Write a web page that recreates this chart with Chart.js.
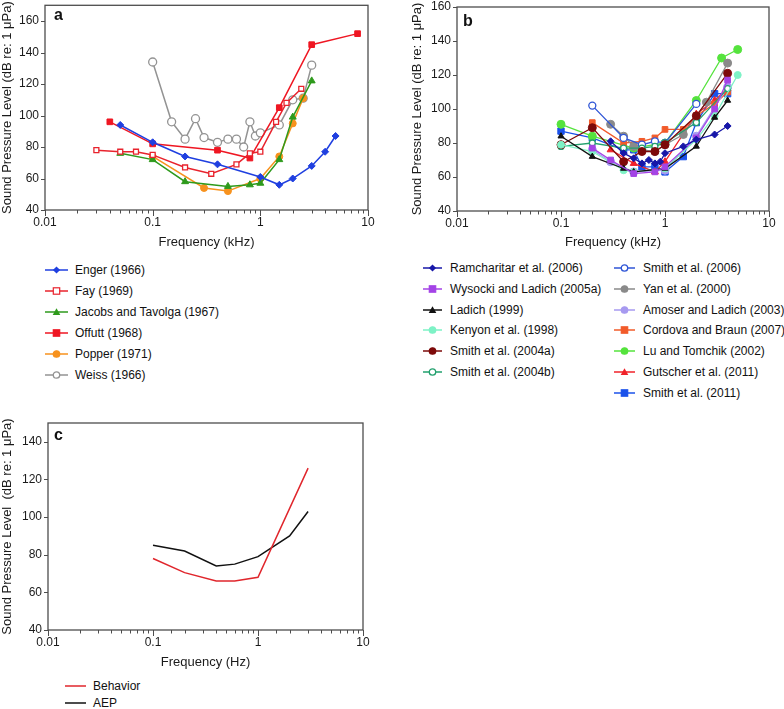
<!DOCTYPE html>
<html>
<head>
<meta charset="utf-8">
<script src="https://cdn.jsdelivr.net/npm/chart.js@4/dist/chart.umd.min.js"></script>
<style>
  body { margin: 0; background: #fff; width: 784px; height: 709px; position: relative; overflow: hidden;
         font-family: "Liberation Sans", Arial, sans-serif; color: #111; }
  canvas { position: absolute; }
  .letter { position: absolute; font-weight: bold; font-size: 16px; }
  .legend { position: absolute; font-size: 12px; }
  .item { position: absolute; white-space: nowrap; height: 14px; line-height: 14px; }
  .item svg { position: absolute; left: 0; top: 2px; }
  .item span { position: absolute; }
</style>
</head>
<body>
<canvas id="chartA" width="385" height="250" style="left:0;top:0"></canvas>
<canvas id="chartB" width="394" height="250" style="left:390px;top:0"></canvas>
<canvas id="chartC" width="385" height="255" style="left:0;top:415px"></canvas>
<div class="letter" style="left:54px;top:6px">a</div>
<div class="letter" style="left:463px;top:12px">b</div>
<div class="letter" style="left:54px;top:426px">c</div>
<div id="legendA" class="legend"></div>
<div id="legendB" class="legend"></div>
<div id="legendC" class="legend"></div>
<script>
// Panel a: [frequency kHz, threshold dB]
const enger = [[0.05,94],[0.1,83],[0.2,74],[0.4,69],[1,61],[1.5,56],[2,60],[3,68],[4,77],[5,87]];
const fay = [[0.03,78],[0.05,77],[0.07,77],[0.1,75],[0.2,67],[0.35,63],[0.6,69],[0.8,76],[1,77],[1.4,96],[1.75,108],[2.4,117]];
const jacobs = [[0.05,76],[0.1,72],[0.2,58],[0.5,55],[0.8,56],[1,57],[1.5,72],[2,99],[3,122]];
const offutt = [[0.04,96],[0.1,82],[0.4,78],[0.8,73],[1.5,105],[3,145],[8,152]];
const popper = [[0.1,74],[0.3,54],[0.5,52],[1,60],[1.5,74],[2,95],[2.5,111]];
const weiss = [[0.1,134],[0.15,96],[0.2,85],[0.25,98],[0.3,86],[0.4,83],[0.5,85],[0.6,85],[0.7,80],[0.8,96],[0.9,87],[1,89],[1.5,94],[2,110],[2.5,111],[3,132]];
const panelALabels = ["Enger (1966)", "Fay (1969)", "Jacobs and Tavolga (1967)", "Offutt (1968)", "Popper (1971)", "Weiss (1966)"];

// Panel b
const ramcharitar = [[0.3,81],[0.4,74],[0.5,71],[0.6,68],[0.7,70],[0.8,68],[0.9,69],[1,74],[1.5,78],[2,82],[3,85],[4,90]];
const wysocki = [[0.2,77],[0.3,70],[0.5,62],[0.8,63],[1,66],[2,83],[3,100],[4,117]];
const ladich = [[0.1,84],[0.2,72],[0.4,65],[0.5,63],[1,65],[2,78],[3,95],[4,105]];
const kenyon = [[0.1,79],[0.2,75],[0.4,64],[0.5,63],[1,65],[2,82],[3,96],[5,120]];
const smith2004a = [[0.1,79],[0.2,89],[0.4,69],[0.6,75],[0.8,75],[1,79],[2,96],[4,121]];
const smith2004b = [[0.1,78],[0.2,80],[0.4,77],[0.6,77],[0.8,78],[1,80],[2,92],[4,112]];
const smith2006 = [[0.2,102],[0.4,83],[0.6,79],[0.8,81],[1,80],[2,103]];
const yan = [[0.3,91],[0.4,84],[0.5,78],[0.6,76],[0.8,75],[1,79],[1.5,85],[2.5,104],[4,127]];
const amoser = [[0.2,76],[0.3,69],[0.5,63],[1,64],[2,84],[4,113]];
const cordova = [[0.2,92],[0.4,80],[0.6,81],[0.8,83],[1,88],[1.5,88],[2,96],[3,103],[4,110]];
const luTomchik = [[0.1,91],[0.2,84],[0.5,77],[1,80],[2,105],[3.5,130],[5,135]];
const gutscher = [[0.3,76],[0.5,68],[0.8,63],[1,69],[2,97],[3,105],[4,112]];
const smith2011 = [[0.1,87],[0.2,83],[0.4,76],[0.5,76],[0.6,66],[0.8,66],[1,63],[1.5,72],[2,92],[3,109],[4,109]];
const panelBLabels = ["Ramcharitar et al. (2006)", "Wysocki and Ladich (2005a)", "Ladich (1999)", "Kenyon et al. (1998)",
  "Smith et al. (2004a)", "Smith et al. (2004b)", "Smith et al. (2006)", "Yan et al. (2000)", "Amoser and Ladich (2003)",
  "Cordova and Braun (2007)", "Lu and Tomchik (2002)", "Gutscher et al. (2011)", "Smith et al. (2011)"];

// Panel c
const behavior = [[0.1,78],[0.2,70.5],[0.4,66],[0.6,66],[1,68],[3,126]];
const aep = [[0.1,85],[0.2,82],[0.4,74],[0.6,75],[1,79],[2,90],[3,103]];
const panelCLabels = ["Behavior", "AEP"];

const decadeLabels = ["0.01", "0.1", "1", "10"];
const FONT = '"Liberation Sans", Arial, sans-serif';

function isDecade(v) {
  const l = Math.log10(v);
  return Math.abs(l - Math.round(l)) < 1e-6;
}

// box round the plot plus outward tick marks, placed with the chart's own scales
const frameTicks = {
  id: "frameTicks",
  afterDraw(chart) {
    const { ctx, chartArea: a, scales: { x, y } } = chart;
    ctx.save();
    ctx.strokeStyle = "#4d4d4d";
    ctx.lineWidth = 1.3;
    ctx.strokeRect(a.left, a.top, a.right - a.left, a.bottom - a.top);
    ctx.beginPath();
    x.ticks.forEach(t => {
      const px = Math.round(x.getPixelForValue(t.value)) + 0.5;
      ctx.moveTo(px, a.bottom);
      ctx.lineTo(px, a.bottom + (isDecade(t.value) ? 6 : 3.5));
    });
    y.ticks.forEach(t => {
      const py = Math.round(y.getPixelForValue(t.value)) + 0.5;
      ctx.moveTo(a.left, py);
      ctx.lineTo(a.left - 4, py);
    });
    ctx.lineWidth = 1;
    ctx.stroke();
    ctx.restore();
  }
};

function series(label, pts, color, style, open, radius, width) {
  return {
    label,
    data: pts.map(p => ({ x: p[0], y: p[1] })),
    borderColor: color,
    backgroundColor: open ? "#fff" : color,
    pointBorderColor: color,
    pointBackgroundColor: open ? "#fff" : color,
    pointStyle: style,
    pointRadius: radius,
    pointBorderWidth: open ? 1.3 : 1,
    borderWidth: width || 1.5,
    tension: 0,
    fill: false,
    clip: false
  };
}

function options(cfg) {
  return {
    responsive: false,
    animation: false,
    layout: { padding: cfg.padding },
    plugins: { legend: { display: false }, tooltip: { enabled: false } },
    scales: {
      x: {
        type: "logarithmic",
        min: 0.01,
        max: 10,
        afterFit: s => { s.height = cfg.xHeight; s.paddingLeft = 0; s.paddingRight = 0; },
        grid: { display: false, drawTicks: false },
        border: { display: false },
        ticks: {
          autoSkip: false, maxRotation: 0, padding: 5, color: "#1a1a1a",
          font: { family: FONT, size: 12 },
          callback: v => isDecade(v) ? decadeLabels[Math.round(Math.log10(v)) + 2] : ""
        },
        title: { display: true, text: cfg.xTitle, color: "#1a1a1a", padding: { top: 4, bottom: 0 },
                 font: { family: FONT, size: 13 } }
      },
      y: {
        min: 40,
        max: cfg.yMax,
        afterFit: s => { s.width = cfg.yWidth; s.paddingTop = 0; s.paddingBottom = 0; },
        grid: { display: false, drawTicks: false },
        border: { display: false },
        ticks: { stepSize: 20, includeBounds: false, padding: 6, color: "#1a1a1a",
                 font: { family: FONT, size: 12 } },
        title: { display: true, text: cfg.yTitle, color: "#1a1a1a", padding: { top: 0, bottom: 2 },
                 font: { family: FONT, size: 13 } }
      }
    }
  };
}

const setsA = [
  series(panelALabels[0], enger, "#1f3fe0", "rectRot", false, 3.5),
  series(panelALabels[1], fay, "#e8232d", "rect", true, 3.5),
  series(panelALabels[2], jacobs, "#2e9a1c", "triangle", false, 4),
  series(panelALabels[3], offutt, "#ef1622", "rect", false, 4),
  series(panelALabels[4], popper, "#f7921e", "circle", false, 3.5),
  series(panelALabels[5], weiss, "#939393", "circle", true, 4)
];

const setsB = [
  series(panelBLabels[0], ramcharitar, "#1717a8", "rectRot", false, 3.5, 1.3),
  series(panelBLabels[1], wysocki, "#a443e6", "rect", false, 4, 1.3),
  series(panelBLabels[2], ladich, "#111111", "triangle", false, 3.5, 1.3),
  series(panelBLabels[3], kenyon, "#7ef2c6", "circle", false, 3.5, 1.3),
  series(panelBLabels[4], smith2004a, "#7d0a0a", "circle", false, 4, 1.3),
  series(panelBLabels[5], smith2004b, "#22a06e", "circle", true, 3, 1.3),
  series(panelBLabels[6], smith2006, "#2f55d6", "circle", true, 3.5, 1.3),
  series(panelBLabels[7], yan, "#8a8a8a", "circle", false, 4, 1.3),
  series(panelBLabels[8], amoser, "#a79af0", "circle", false, 4, 1.3),
  series(panelBLabels[9], cordova, "#f25b2a", "rect", false, 4, 1.3),
  series(panelBLabels[10], luTomchik, "#55e33d", "circle", false, 4, 1.3),
  series(panelBLabels[11], gutscher, "#f0222a", "triangle", false, 4, 1.3),
  series(panelBLabels[12], smith2011, "#1b52ea", "rect", false, 4.5, 1.3)
];

const setsC = [
  series(panelCLabels[0], behavior, "#e0262c", "circle", false, 0, 1.5),
  series(panelCLabels[1], aep, "#111111", "circle", false, 0, 1.5)
];

new Chart(document.getElementById("chartA"), {
  type: "line",
  data: { datasets: setsA },
  options: options({ padding: { left: 0, right: 17, top: 3, bottom: 0 }, xHeight: 40, yWidth: 45, yMax: 170,
                     xTitle: "Frequency (kHz)", yTitle: "Sound Pressure Level (dB re: 1 μPa)" }),
  plugins: [frameTicks]
});

new Chart(document.getElementById("chartB"), {
  type: "line",
  data: { datasets: setsB },
  options: options({ padding: { left: 20, right: 15, top: 7, bottom: 0 }, xHeight: 39, yWidth: 47, yMax: 160,
                     xTitle: "Frequency (kHz)", yTitle: "Sound Pressure Level (dB re: 1 μPa)" }),
  plugins: [frameTicks]
});

new Chart(document.getElementById("chartC"), {
  type: "line",
  data: { datasets: setsC },
  options: options({ padding: { left: 0, right: 22, top: 8, bottom: 0 }, xHeight: 40, yWidth: 48, yMax: 150,
                     xTitle: "Frequency (Hz)", yTitle: "Sound Pressure Level  (dB re: 1 μPa)" }),
  plugins: [frameTicks]
});

// html legends built from the datasets
function markerSvg(ds, w) {
  const c = ds.borderColor, f = ds.pointBackgroundColor, r = Math.max(ds.pointRadius, 0);
  const cx = w / 2, cy = 5;
  let m = "";
  if (r > 0) {
    const s = 3.2;
    if (ds.pointStyle === "circle") m = `<circle cx="${cx}" cy="${cy}" r="${s}" fill="${f}" stroke="${c}" stroke-width="1.3"/>`;
    else if (ds.pointStyle === "rect") m = `<rect x="${cx - s}" y="${cy - s}" width="${2 * s}" height="${2 * s}" fill="${f}" stroke="${c}" stroke-width="1.2"/>`;
    else if (ds.pointStyle === "triangle") m = `<polygon points="${cx},${cy - 3.8} ${cx + 3.8},${cy + 3} ${cx - 3.8},${cy + 3}" fill="${f}"/>`;
    else m = `<polygon points="${cx},${cy - 3.6} ${cx + 3.6},${cy} ${cx},${cy + 3.6} ${cx - 3.6},${cy}" fill="${f}"/>`;
  }
  return `<svg width="${w}" height="10"><line x1="0" y1="${cy}" x2="${w}" y2="${cy}" stroke="${c}" stroke-width="1.5"/>${m}</svg>`;
}

function buildLegend(id, sets, cols) {
  const el = document.getElementById(id);
  sets.forEach((ds, i) => {
    const col = cols.find(c => i >= c.from && i < c.to);
    const row = i - col.from;
    const d = document.createElement("div");
    d.className = "item";
    d.style.left = col.x + "px";
    d.style.top = (col.y + row * col.step) + "px";
    d.innerHTML = markerSvg(ds, col.line) + `<span style="left:${col.gap}px">${ds.label}</span>`;
    el.appendChild(d);
  });
}

buildLegend("legendA", setsA, [{ from: 0, to: 6, x: 45, y: 263, step: 20.9, line: 23, gap: 30 }]);
buildLegend("legendB", setsB, [
  { from: 0, to: 6, x: 423, y: 261, step: 20.8, line: 19, gap: 27 },
  { from: 6, to: 13, x: 614, y: 261, step: 20.8, line: 21, gap: 29 }
]);
buildLegend("legendC", setsC, [{ from: 0, to: 2, x: 65, y: 679, step: 17, line: 21, gap: 28 }]);
</script>
</body>
</html>
